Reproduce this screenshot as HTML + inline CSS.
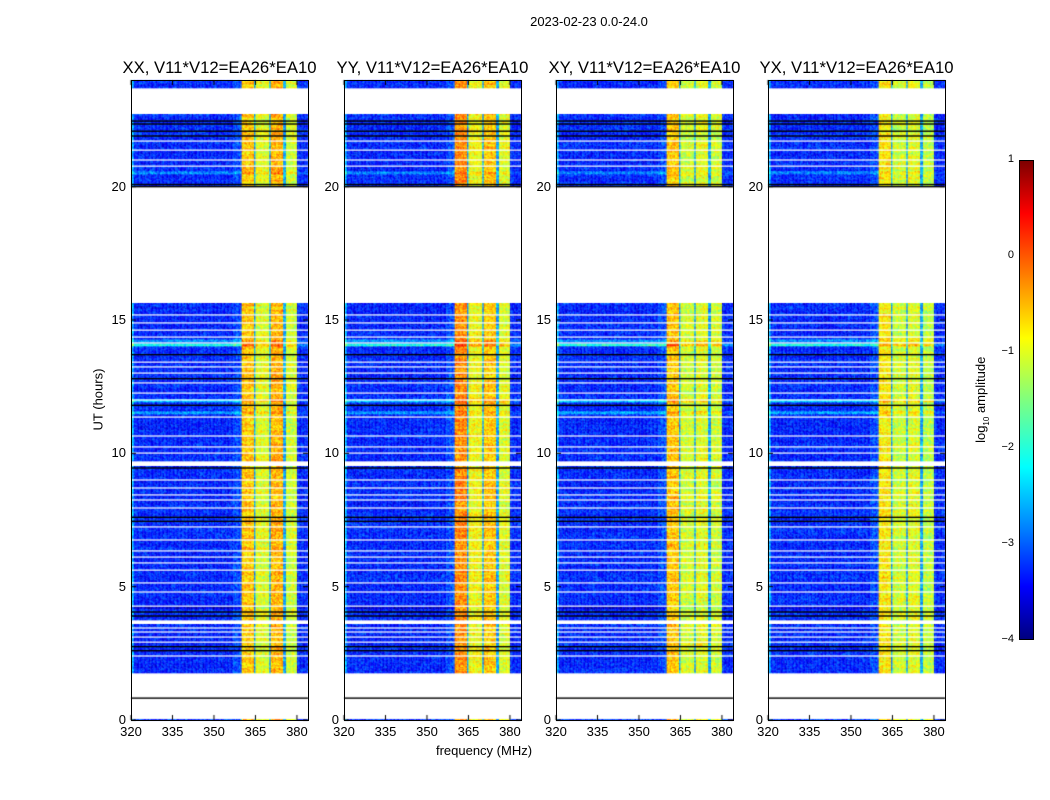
<!DOCTYPE html>
<html><head><meta charset="utf-8">
<style>
body{margin:0;background:#fff;width:1050px;height:800px;overflow:hidden;font-family:"Liberation Sans",sans-serif;position:relative}
.t{position:absolute;white-space:nowrap;color:#000}
canvas{position:absolute}
.frame{position:absolute;border:1px solid #000;box-sizing:border-box}
</style></head><body>
<div class="t" style="left:489px;top:14px;width:200px;text-align:center;font-size:13px">2023-02-23 0.0-24.0</div>
<div class="t" style="left:48px;top:392px;width:100px;text-align:center;font-size:13px;transform:rotate(-90deg)">UT (hours)</div>
<div class="t" style="left:384px;top:743px;width:200px;text-align:center;font-size:13px">frequency (MHz)</div>
<div id="panels"></div>
<div style="position:absolute;left:1019px;top:160px;width:15px;height:480px;border:1px solid #000;box-sizing:border-box;background:linear-gradient(to top,#00007f 0%,#0000ff 11%,#007fff 23%,#00ffff 36%,#7fff7f 50%,#ffff00 63%,#ff7f00 76%,#ff0000 89%,#7f0000 100%)"></div>
<div id="cbticks"></div>
<div class="t" style="left:922px;top:391px;width:120px;text-align:center;font-size:13px;transform:rotate(-90deg)">log<sub style="font-size:8px">10</sub> amplitude</div>
<script>
// ---- data ----
const panelTitles=["XX, V11*V12=EA26*EA10","YY, V11*V12=EA26*EA10","XY, V11*V12=EA26*EA10","YX, V11*V12=EA26*EA10"];
const xTicks=[320,335,350,365,380];
const yTicks=[0,5,10,15,20];
const cbTicks=[1,0,-1,-2,-3,-4];
const bandEdges=[[360,364.3],[365,369.8],[370.5,375],[375.7,380]];
const bandLevelXX=[-0.6,-1.0,-0.5,-1.1];
const bandLevelYY=[-0.3,-0.9,-0.6,-1.0];
const bandLevelXY=[-0.6,-1.1,-1.0,-1.1];
const bandLevelYX=[-0.8,-1.1,-1.0,-1.2];
const backgroundLevel=-3.2;
const gapHours=[[0.07,1.76],[15.64,20.0],[22.76,23.7],[9.55,9.7],[3.6,3.75]];
const blackLineHours=[0.82,2.6,2.75,3.9,4.05,7.45,7.6,9.45,11.8,12.8,13.7,20.0,20.08,21.9,22.08,22.35,22.46];
const whiteLineHours=[21.71,21.37,21.0,20.77,15.19,14.89,14.62,14.36,14.14,13.42,13.24,13.01,12.64,12.26,12.0,11.36,10.65,10.24,10.01,9.0,8.7,8.44,8.25,7.95,7.24,6.75,6.34,6.11,5.89,5.62,5.14,4.8,4.27,3.45,3.3,3.11,2.92,2.4];
const rowBoostHours=[14.05,14.2,11.95,11.5,4.2,20.5];
const rowBoostValues=[1.2,0.5,0.8,0.6,-0.4,0.5];
const bandLevels=[bandLevelXX,bandLevelYY,bandLevelXY,bandLevelYX];
const panelLefts=[131,344,556,768];
// ---- layout ----
const PT=80,PB=720,PW=177,F0=320,F1=384,T0=0,T1=24;
function yScale(h){return PB-(h-T0)/(T1-T0)*(PB-PT);}
function xScale(f,left){return left+(f-F0)/(F1-F0)*PW;}
function jet(v){let t=(v+4)/5;t=Math.max(0,Math.min(1,t));
 const r=Math.max(0,Math.min(1,1.5-Math.abs(4*t-3))),g=Math.max(0,Math.min(1,1.5-Math.abs(4*t-2))),b=Math.max(0,Math.min(1,1.5-Math.abs(4*t-1)));
 return `rgb(${r*255|0},${g*255|0},${b*255|0})`;}
function tex(i,j,p){let h=(i*374761393+j*668265263+p*1442695041)|0;h=(h^(h>>>13))*1274126177|0;return ((h>>>0)%1000)/1000-0.5;}
const host=document.getElementById('panels');
bandLevels.forEach((levels,p)=>{
 const left=panelLefts[p];
 const cv=document.createElement('canvas');
 
 
 cv.width=1050;cv.height=800;cv.style.left='0';cv.style.top='0';
 host.appendChild(cv);const c=cv.getContext('2d');
 const dt=0.0375,df=0.5;
 for(let i=0;i*dt<T1;i++){const h=i*dt;
  if(gapHours.some(g=>h+dt>g[0]&&h<g[1]))continue;
  let boost=0;rowBoostHours.forEach((bh,k)=>{if(Math.abs(h-bh)<0.06)boost+=rowBoostValues[k];});
  const rowVar=tex(i,7,p)*0.3;
  const y0=yScale(h+dt),y1=yScale(h);
  for(let j=0;j*df<F1-F0;j++){const f=F0+j*df;
   let v=backgroundLevel+rowVar*0.6;
   bandEdges.forEach((b,k)=>{if(f>=b[0]&&f<b[1])v=levels[k]+rowVar;});
   if(f>=364.3&&f<365||f>=369.8&&f<370.5||f>=375&&f<375.7)v=-2.6;
   if(f<321)v=-2.5;
   if(f>=357&&f<360)v=-3.0;
   v+=tex(i,j,p)*0.8+boost*(f<360?1:0.4);
   c.fillStyle=jet(v);
   const x0=xScale(f,left),x1=xScale(f+df,left);
   c.fillRect(x0,y0,x1-x0+0.3,y1-y0+0.3);}
 }
 c.fillStyle='#fff';whiteLineHours.forEach(h=>c.fillRect(left,yScale(h)-0.6,PW,1.2));
 c.fillStyle='#000';blackLineHours.forEach(h=>c.fillRect(left,yScale(h)-0.7,PW,1.4));
 const fr=document.createElement('div');fr.className='frame';
 
 
 fr.style.cssText=`left:${left}px;top:${PT}px;width:${PW+1}px;height:${PB-PT+1}px`;host.appendChild(fr);
 const tt=document.createElement('div');tt.className='t';
 
 
 tt.style.cssText=`left:${left-40}px;top:58px;width:${PW+80}px;text-align:center;font-size:16.7px`;tt.textContent=panelTitles[p];host.appendChild(tt);
 xTicks.forEach(v=>{const x=xScale(v,left);
  const l=document.createElement('div');l.className='t';
  
  
  l.style.cssText=`left:${x-20}px;top:724px;width:40px;text-align:center;font-size:13px`;l.textContent=v;host.appendChild(l);
  c.fillStyle='#000';c.fillRect(x-0.5,PB-5,1,5);c.fillRect(x-0.5,PT,1,5);});
 yTicks.forEach(v=>{const y=yScale(v);
  const l=document.createElement('div');l.className='t';
  
  
  l.style.cssText=`left:${left-40}px;top:${y-8}px;width:35px;text-align:right;font-size:13px`;l.textContent=v;host.appendChild(l);
  c.fillStyle='#000';c.fillRect(left,y-0.5,5,1);c.fillRect(left+PW-5,y-0.5,5,1);});
});
const cb=document.getElementById('cbticks');
cbTicks.forEach(v=>{const y=160+(1-v)/5*480;
 const l=document.createElement('div');l.className='t';
 
 
 l.style.cssText=`left:980px;top:${y-7}px;width:34px;text-align:right;font-size:11px`;l.textContent=v<0?'\u2212'+(-v):v;cb.appendChild(l);});
</script>
</body></html>
